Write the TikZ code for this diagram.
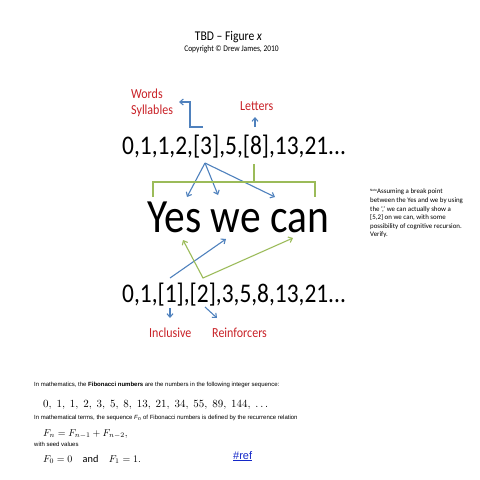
\documentclass[tikz,border=0pt]{standalone}
\usepackage{fontspec}
\usepackage{graphicx}
\setmainfont{Carlito}
\newfontfamily\arialfont{Liberation Sans}
\usetikzlibrary{arrows.meta}
\definecolor{wordred}{RGB}{200,32,38}
\definecolor{linkblue}{RGB}{79,129,189}
\definecolor{bracegreen}{RGB}{155,187,89}
\definecolor{refblue}{RGB}{20,40,200}
\newcommand{\tallbox}[1]{\scalebox{1}[1.15]{#1}}
\tikzset{
	bluearrow/.style={draw=linkblue, line width=1.1pt, -{Straight Barb[length=3.5pt,width=6pt]}},
	greenline/.style={draw=bracegreen, line width=1.1pt},
	redlabel/.style={text=wordred, font=\fontsize{12}{14}\selectfont, inner sep=0pt, anchor=base west},
	seqtext/.style={font=\fontsize{23.4}{28}\selectfont, inner sep=0pt, anchor=base west},
	smalltext/.style={font=\arialfont\fontsize{6}{7}\selectfont, inner sep=0pt, anchor=base west},
	mathtext/.style={font=\fontsize{10.3}{12}\selectfont, inner sep=0pt, anchor=base west}
}

\begin{document}
\begin{tikzpicture}[x=1pt, y=-1pt]
			%%%%% START %%%%%
			\useasboundingbox (0,0) rectangle (480,480);
			
			\node[font=\fontsize{11.6}{14}\selectfont, inner sep=0pt, anchor=base] (title) at (228.5,40) {\tallbox{TBD -- Figure \textit{x}}};
			\node[font=\fontsize{7.5}{9}\selectfont, inner sep=0pt, anchor=base] (copyright) at (231.5,51) {\tallbox{Copyright \textcopyright{} Drew James, 2010}};
			
			\node[redlabel] (words) at (131,98) {\tallbox{Words}};
			\node[redlabel] (syllables) at (131,114) {\tallbox{Syllables}};
			\node[redlabel] (letters) at (240,110) {\tallbox{Letters}};
			
			\node[seqtext] (seqtop) at (122,154) {\tallbox{0,1,1,2,[3],5,[8],13,21...}};
			\node[font=\fontsize{41.5}{48}\selectfont, inner sep=0pt, anchor=base west] (yes) at (147,232) {\tallbox{Yes we can}};
			\node[seqtext] (seqbottom) at (122,302) {\tallbox{0,1,[1],[2],3,5,8,13,21...}};
			
			\node[redlabel] (inclusive) at (149,337) {\tallbox{Inclusive}};
			\node[redlabel] (reinforcers) at (212,337) {\tallbox{Reinforcers}};
			
			% arrows above the top row
			\coordinate (sylfoot) at (203,127);
			\coordinate (syltip) at (179,102);
			\draw[bluearrow] (sylfoot) -- ++(-13,0) |- (syltip);
			\coordinate (eightfoot) at (255,127);
			\coordinate (eighttip) at (255,117);
			\draw[bluearrow] (eightfoot) -- (eighttip);
			
			% from [3] down to the words
			\coordinate (three) at (205,163);
			\coordinate (yestip) at (187,197);
			\coordinate (wetip) at (218,195);
			\coordinate (cantip) at (275,197);
			\draw[bluearrow] (three) -- (yestip);
			\draw[bluearrow] (three) -- (wetip);
			\draw[bluearrow] (three) -- (cantip);
			
			% bracket under [8]
			\coordinate (braceL) at (153,197);
			\coordinate (braceR) at (315,197);
			\coordinate (bracetop) at (254,164);
			\draw[greenline] (braceL) -- ++(0,-15) -| (braceR);
			\draw[greenline] (bracetop) -- ++(0,18);
			
			% from the bottom row up
			\coordinate (onefoot) at (170,278);
			\coordinate (weup) at (226,239);
			\draw[bluearrow] (onefoot) -- (weup);
			\coordinate (twofoot) at (203,278);
			\coordinate (yesup) at (183,240);
			\coordinate (canup) at (293,238);
			\draw[greenline, {Straight Barb[length=3.5pt,width=6pt]}-{Straight Barb[length=3.5pt,width=6pt]}] (yesup) -- (twofoot) -- (canup);
			
			% down to the labels
			\coordinate (onedown) at (170,308);
			\coordinate (inctip) at (170,318);
			\draw[bluearrow] (onedown) -- (inctip);
			\coordinate (twodown) at (205,307);
			\coordinate (reintip) at (217,318);
			\draw[bluearrow] (twodown) -- (reintip);
			
			\node[font=\fontsize{6.9}{8.6}\selectfont, inner sep=0pt, anchor=north west, align=left] (note) at (370,189)
				{\raisebox{2pt}{\fontsize{3.5}{4}\selectfont Note}Assuming a break point\\
				between the Yes and we by using\\
				the `,' we can actually show a\\
				{[}5,2] on we can, with some\\
				possibility of cognitive recursion.\\
				Verify.};
			
			% Fibonacci block
			\node[smalltext] (fibintro) at (34,386) {In mathematics, the \textbf{Fibonacci numbers} are the numbers in the following integer sequence:};
			\node[mathtext, font=\fontsize{10.5}{13}\selectfont] (fibseq) at (43,407) {$0,\;1,\;1,\;2,\;3,\;5,\;8,\;13,\;21,\;34,\;55,\;89,\;144,\;\ldots$};
			\node[smalltext] (fibterms) at (34,419) {In mathematical terms, the sequence \textit{F}\textsubscript{\textit{n}} of Fibonacci numbers is defined by the recurrence relation};
			\node[mathtext] (fibrec) at (43,436) {$F_n = F_{n-1} + F_{n-2},$};
			\node[smalltext] (fibseed) at (34,446) {with seed values};
			\node[mathtext] (fibinit) at (43,462) {$F_0 = 0 \quad \mathrm{and} \quad F_1 = 1.$};
			\node[font=\arialfont\fontsize{11}{13}\selectfont, text=refblue, inner sep=0pt, anchor=base west] (ref) at (233,459) {\underline{\#ref}};
			
			%%%%% END %%%%%
\end{tikzpicture}
\end{document}
